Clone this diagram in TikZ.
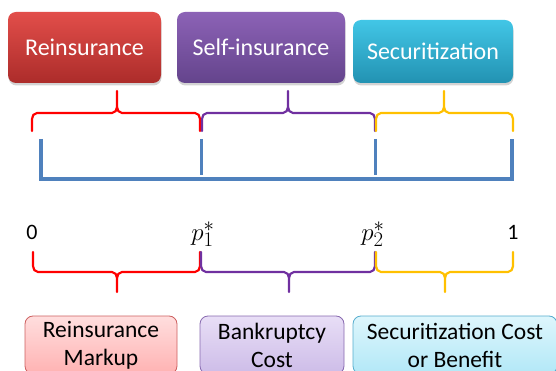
\documentclass[tikz,border=0pt]{standalone}
\usepackage{fontspec}
\setmainfont{Carlito}
\usetikzlibrary{shadows}
\definecolor{rA}{RGB}{226,78,74}
\definecolor{rB}{RGB}{172,44,42}
\definecolor{pA}{RGB}{140,98,182}
\definecolor{pB}{RGB}{100,68,140}
\definecolor{cA}{RGB}{66,198,230}
\definecolor{cB}{RGB}{34,146,178}
\definecolor{lrA}{RGB}{255,222,222}
\definecolor{lrB}{RGB}{255,178,178}
\definecolor{lrD}{RGB}{205,95,95}
\definecolor{lpA}{RGB}{232,222,246}
\definecolor{lpB}{RGB}{205,188,232}
\definecolor{lpD}{RGB}{135,105,175}
\definecolor{lcA}{RGB}{222,246,252}
\definecolor{lcB}{RGB}{178,232,247}
\definecolor{lcD}{RGB}{85,172,205}
\definecolor{bred}{RGB}{255,0,0}
\definecolor{bpur}{RGB}{112,48,160}
\definecolor{byel}{RGB}{255,192,0}
\definecolor{axis}{RGB}{79,129,189}
\tikzset{
  topbox/.style={rounded corners=8pt, text=white, font=\fontsize{24}{28}\selectfont,
    inner sep=0pt, drop shadow={opacity=0.35, shadow xshift=0.5pt, shadow yshift=-2.5pt}},
  botbox/.style={rounded corners=8pt, draw, line width=0.8pt, font=\fontsize{23.5}{28}\selectfont,
    inner sep=0pt, align=center},
  bracestyle/.style={line width=2.2pt, line cap=round, line join=round},
  lbl/.style={font=\fontsize{22}{24}\selectfont, inner sep=0pt},
  mlbl/.style={font=\fontsize{28}{30}\selectfont, inner sep=0pt}
}
\newcommand\bracetop[4]{%
  \draw[bracestyle,#4] (#1,131) -- (#1,119) to[out=90,in=180] (#1+5,113) -- (#3-5,113) to[out=0,in=-90] (#3,107) -- (#3,91);
  \draw[bracestyle,#4] (#2,131) -- (#2,119) to[out=90,in=0] (#2-5,113) -- (#3+5,113) to[out=180,in=-90] (#3,107);}
\newcommand\bracebot[4]{%
  \draw[bracestyle,#4] (#1,252) -- (#1,266) to[out=-90,in=180] (#1+5,272) -- (#3-5,272) to[out=0,in=90] (#3,278) -- (#3,292);
  \draw[bracestyle,#4] (#2,252) -- (#2,266) to[out=-90,in=0] (#2-5,272) -- (#3+5,272) to[out=180,in=90] (#3,278);}
\begin{document}
\begin{tikzpicture}[x=1pt,y=-1pt]
\useasboundingbox (0,0) rectangle (556,371);
\clip (0,0) rectangle (556,371);
% top boxes
\node[topbox, top color=rA, bottom color=rB, minimum width=153pt, minimum height=71pt] (reins) at (84.5,47.5) {Reinsurance};
\node[topbox, top color=pA, bottom color=pB, minimum width=168pt, minimum height=71pt] (self) at (261,47.5) {Self-insurance};
\node[topbox, top color=cA, bottom color=cB, minimum width=160pt, minimum height=63pt] (secur) at (433,51.5) {Securitization};
% top braces
\bracetop{32}{200}{117}{bred}
\bracetop{202}{375}{288}{bpur}
\bracetop{376}{513}{444}{byel}
% axis
\draw[axis, line width=3.5pt, line join=miter] (41,139) -- (41,179) -- (512,179) -- (512,139);
\draw[axis, line width=3pt] (201,139) -- (201,175);
\draw[axis, line width=3pt] (375,139) -- (375,175);
% labels
\node[lbl] (l0) at (32,232) {0};
\node[mlbl] (lp1) at (203,234) {$p_1^*$};
\node[mlbl] (lp2) at (373,234) {$p_2^*$};
\node[lbl] (l1) at (513,232) {1};
% bottom braces
\bracebot{33}{200}{117}{bred}
\bracebot{201}{375}{289}{bpur}
\bracebot{376}{513}{445}{byel}
% bottom boxes
\node[botbox, draw=lrD, top color=lrA, bottom color=lrB, minimum width=152pt, minimum height=58pt] (markup) at (101,345) {Reinsurance\\Markup};
\node[botbox, draw=lpD, top color=lpA, bottom color=lpB, minimum width=144pt, minimum height=58pt] (bankr) at (272,345) {Bankruptcy\\Cost};
\node[botbox, draw=lcD, top color=lcA, bottom color=lcB, minimum width=204pt, minimum height=58pt] (seccost) at (455,345) {Securitization Cost\\or Benefit};
\end{tikzpicture}
\end{document}
